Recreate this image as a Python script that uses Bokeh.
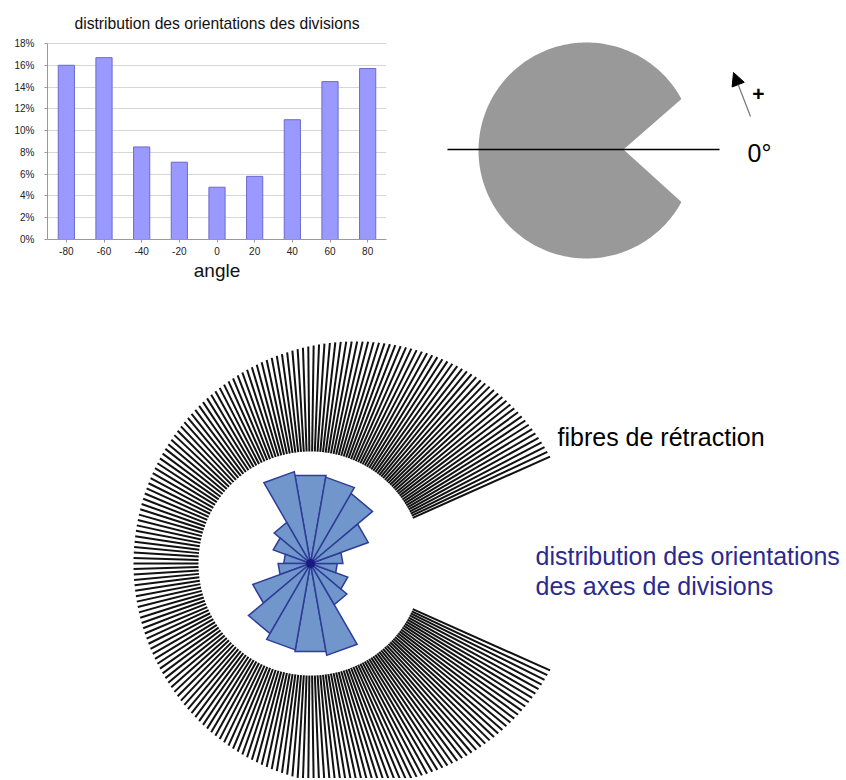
import numpy as np
from bokeh.plotting import figure
from bokeh.layouts import column, row
from bokeh.models import Range1d, FixedTicker, Arrow, NormalHead
from bokeh.core.properties import value
from bokeh.embed import file_html
from bokeh.resources import INLINE

# ---------------- data ----------------
angles = [-80, -60, -40, -20, 0, 20, 40, 60, 80]
percentages = [16.0, 16.7, 8.5, 7.1, 4.8, 5.8, 11.0, 14.5, 15.7]
x_tick_labels = ["-80", "-60", "-40", "-20", "0", "20", "40", "60", "80"]
y_ticks = [0, 2, 4, 6, 8, 10, 12, 14, 16, 18]
y_tick_labels = ["0%", "2%", "4%", "6%", "8%", "10%", "12%", "14%", "16%", "18%"]
chart_title = "distribution des orientations des divisions"
x_label = "angle"
fibre_label = "fibres de rétraction"
rose_label = ["distribution des orientations", "des axes de divisions"]

FONT = "Liberation Sans"
PAGE_W = 846

# ---------------- bar chart ----------------
W1, H1 = 410, 288
TOP18, BOTTOM0 = 43, 239          # page rows of the 18 % and 0 % lines
ppu = (BOTTOM0 - TOP18) / 18.0    # pixels per percent
y_top = 18 + TOP18 / ppu          # frame reaches the top of the figure (room for title)
p1 = figure(width=W1, height=H1, x_range=Range1d(-90, 90), y_range=Range1d(0, y_top),
            output_backend="svg", toolbar_location=None,
            min_border_left=47, min_border_right=W1 - 386, min_border_top=0,
            min_border_bottom=H1 - BOTTOM0)
p1.vbar(x=angles, top=percentages, width=8.6, fill_color="#9999ff",
        line_color="#6a6acc", line_width=1)
p1.text(x=[0], y=[18 + 20 / ppu], text=[chart_title], text_font=value(FONT),
        text_font_size="15.7px", text_align="center", text_baseline="alphabetic",
        text_color="#111111")

p1.xaxis.ticker = FixedTicker(ticks=angles)
p1.xaxis.major_label_overrides = {a: s for a, s in zip(angles, x_tick_labels)}
p1.yaxis.ticker = FixedTicker(ticks=y_ticks)
p1.yaxis.major_label_overrides = {t: s for t, s in zip(y_ticks, y_tick_labels)}
p1.yaxis.bounds = (0, 18)
for ax in (p1.xaxis, p1.yaxis):
    ax.major_label_text_font = FONT
    ax.major_label_text_font_size = "10px"
    ax.major_label_text_color = "#222222"
    ax.axis_line_color = "#999999"
    ax.major_tick_line_color = "#999999"
    ax.major_tick_out = 3
    ax.major_tick_in = 0
    ax.minor_tick_line_color = None
p1.xaxis.major_label_standoff = 4
p1.yaxis.major_label_standoff = 10
p1.xaxis.axis_label = x_label
p1.xaxis.axis_label_text_font = FONT
p1.xaxis.axis_label_text_font_size = "19px"
p1.xaxis.axis_label_text_font_style = "normal"
p1.xaxis.axis_label_text_color = "#111111"
p1.xaxis.axis_label_standoff = 2
p1.xgrid.visible = False
p1.ygrid.grid_line_color = "#d6d6d6"
p1.outline_line_color = None

# ---------------- orientation sketch (pacman) ----------------
W2, H2 = PAGE_W - W1, H1
X0 = W1
p2 = figure(width=W2, height=H2, x_range=Range1d(X0, X0 + W2), y_range=Range1d(H2, 0),
            x_axis_type=None, y_axis_type=None, output_backend="svg", toolbar_location=None,
            min_border_left=0, min_border_right=0, min_border_top=0, min_border_bottom=0)
p2.outline_line_color = None
pc_x, pc_y, pc_r, mouth = 586.0, 150.0, 108.0, 28.5
apex_x = 623.0
t = np.radians(np.linspace(mouth, 360 - mouth, 240))
px = list(pc_x + pc_r * np.cos(t)) + [apex_x]
py = list(pc_y - pc_r * np.sin(t)) + [pc_y - 1]
p2.patch(px, py, fill_color="#999999", line_color=None)
p2.line([447, 719], [149, 149], line_color="black", line_width=1.6)
p2.add_layout(Arrow(end=NormalHead(size=13, fill_color="black", line_color="black"),
                    x_start=750, y_start=116, x_end=733, y_end=72,
                    line_color="#777777", line_width=1.2))
p2.text(x=[758], y=[93], text=["+"], text_font=value(FONT), text_font_size="21px",
        text_font_style="bold", text_align="center", text_baseline="middle",
        text_color="black")
p2.text(x=[747], y=[152], text=["0°"], text_font=value(FONT), text_font_size="25px",
        text_align="left", text_baseline="alphabetic", text_color="black")

for p in (p1, p2):
    if "frame_align" in p.properties():
        p.frame_align = False

# ---------------- rose + fibres ----------------
W3, H3 = PAGE_W, 490
Y3 = H1
p3 = figure(width=W3, height=H3, x_range=Range1d(0, W3), y_range=Range1d(Y3 + H3, Y3),
            x_axis_type=None, y_axis_type=None, output_backend="svg", toolbar_location=None,
            min_border_left=0, min_border_right=0, min_border_top=0, min_border_bottom=0)
p3.outline_line_color = None

cx, cy = 310.0, 563.0
r_in, off, R_out, psi0, n_fib = 112.0, 45.0, 222.0, 28.8, 215
psi = np.radians(np.linspace(psi0, 360 - psi0, n_fib))
ox = cx + off + R_out * np.cos(psi)
oy = cy - R_out * np.sin(psi)
dx, dy = ox - cx, oy - cy
dn = np.hypot(dx, dy)
ix = cx + r_in * dx / dn
iy = cy + r_in * dy / dn
p3.segment(x0=ix, y0=iy, x1=ox, y1=oy, line_color="#111111", line_width=2.0)

scale = 5.5  # px per %
half = 10.0
xs, ys = [], []
for a, v in zip(angles, percentages):
    for base in (a - 10, a - 10 + 180):
        d = v * scale / np.cos(np.radians(half))
        a1, a2 = np.radians(base - half), np.radians(base + half)
        xs.append([cx, cx + d * np.cos(a1), cx + d * np.cos(a2)])
        ys.append([cy, cy - d * np.sin(a1), cy - d * np.sin(a2)])
p3.patches(xs, ys, fill_color="#7096cc", line_color="#2f3c98", line_width=1.5,
           line_join="miter")
p3.scatter([cx], [cy], size=8, color="#1a1a80")

p3.text(x=[557], y=[436], text=[fibre_label], text_font=value(FONT), text_font_size="25px",
        text_align="left", text_baseline="alphabetic", text_color="black")
p3.text(x=[535, 535], y=[555, 585], text=rose_label, text_font=value(FONT),
        text_font_size="25px", text_align="left", text_baseline="alphabetic",
        text_color="#2b2a8f")

layout = column(row(p1, p2), p3)
open("out.html", "w").write(file_html(layout, INLINE))
